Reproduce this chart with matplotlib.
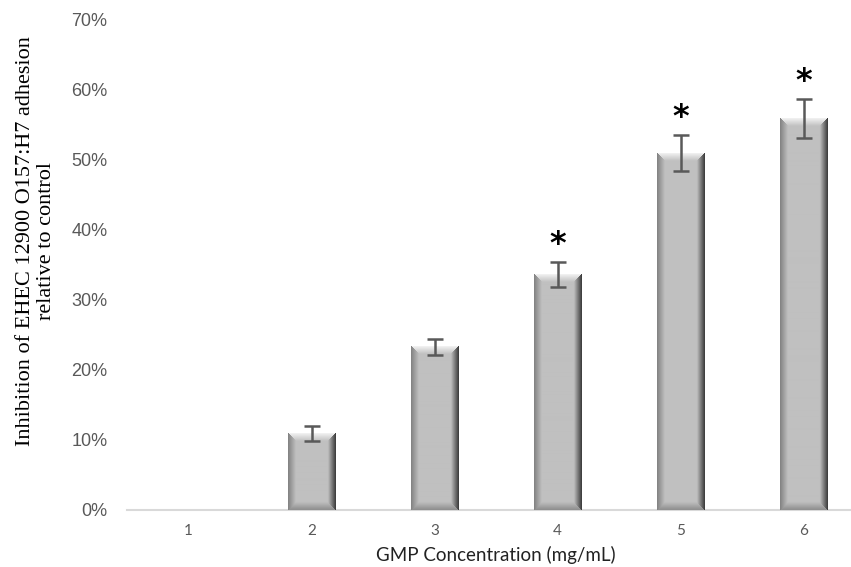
import numpy as np
import matplotlib.pyplot as plt
from matplotlib.ticker import FuncFormatter

# data
conc = ['1', '2', '3', '4', '5', '6']
inhibition = [0.0, 10.9, 23.3, 33.6, 51.0, 55.9]
sem = [0.0, 1.1, 1.2, 1.8, 2.6, 2.8]
significant = [False, False, False, True, True, True]


def bevel_image(w, h, b=8):
    # picture-frame bevel shading for one bar, w x h pixels
    jj, ii = np.mgrid[0:h, 0:w]
    d_l = ii + 0.5
    d_r = w - ii - 0.5
    d_t = jj + 0.5
    d_b = h - jj - 0.5
    d = np.stack([d_l, d_r, d_t, d_b])
    near = np.argmin(d, axis=0)
    dmin = np.min(d, axis=0)
    base = 0.75
    edge = np.array([0.50, 0.22, 0.95, 0.55])
    t = np.clip(dmin / b, 0, 1)
    return edge[near] * (1 - t) + base * t


fig = plt.figure(figsize=(8.51, 5.67), dpi=100)
ax = fig.add_axes([127 / 851, 1 - 510 / 567, 738 / 851, 490 / 567])

x = np.arange(len(conc))
bars = ax.bar(x, inhibition, width=0.39, color='#bfbfbf', zorder=2)
ax.set_xlim(-0.5, len(conc) - 0.5)
ax.set_ylim(0, 70)

fig.canvas.draw()
for bar in bars:
    h = bar.get_height()
    if h <= 0:
        continue
    x0, y0 = bar.get_x(), 0
    x1, y1 = x0 + bar.get_width(), h
    p0 = ax.transData.transform((x0, y0))
    p1 = ax.transData.transform((x1, y1))
    wpx = max(int(round(p1[0] - p0[0])), 2)
    hpx = max(int(round(p1[1] - p0[1])), 2)
    img = bevel_image(wpx, hpx)
    ax.imshow(img, cmap='gray', vmin=0, vmax=1, extent=(x0, x1, y0, y1),
              aspect='auto', interpolation='bilinear', zorder=3)

ax.set_xlim(-0.5, len(conc) - 0.5)
ax.set_ylim(0, 70)

# error bars (only where there is a bar)
for xi, v, e in zip(x, inhibition, sem):
    if e > 0:
        ax.errorbar(xi, v, yerr=e, fmt='none', ecolor='#595959', elinewidth=1.8,
                    capsize=5.5, capthick=1.8, zorder=4)

# significance stars
for xi, v, e, s in zip(x, inhibition, sem, significant):
    if s:
        ax.text(xi, v + e + 2.5, '*', ha='center', va='center', fontsize=23,
                fontweight='bold', color='black', zorder=5)

ax.set_yticks(np.arange(0, 71, 10))
ax.yaxis.set_major_formatter(FuncFormatter(lambda v, p: f'{v:.0f}%'))
ax.set_xticks(x)
ax.set_xticklabels(conc)

for sp in ['top', 'right', 'left']:
    ax.spines[sp].set_visible(False)
ax.spines['bottom'].set_color('#d9d9d9')
ax.spines['bottom'].set_linewidth(1.5)

ax.tick_params(axis='y', length=0, pad=14, labelsize=13, labelcolor='#595959')
for lab in ax.get_yticklabels():
    lab.set_family('Liberation Sans')
ax.tick_params(axis='x', length=0, pad=10, labelsize=11, labelcolor='#595959')
for lab in ax.get_xticklabels():
    lab.set_family('Lato')

ax.set_xlabel('GMP Concentration (mg/mL)', fontsize=13.5, family='Lato',
              color='#222222', labelpad=6)

fig.text(36 / 851, 1 - 241 / 567,
         'Inhibition of EHEC 12900 O157:H7 adhesion\nrelative to control',
         rotation=90, ha='center', va='center', fontsize=16,
         family='Liberation Serif', linespacing=1.2, multialignment='center')

fig.savefig('out.png', dpi=100)
